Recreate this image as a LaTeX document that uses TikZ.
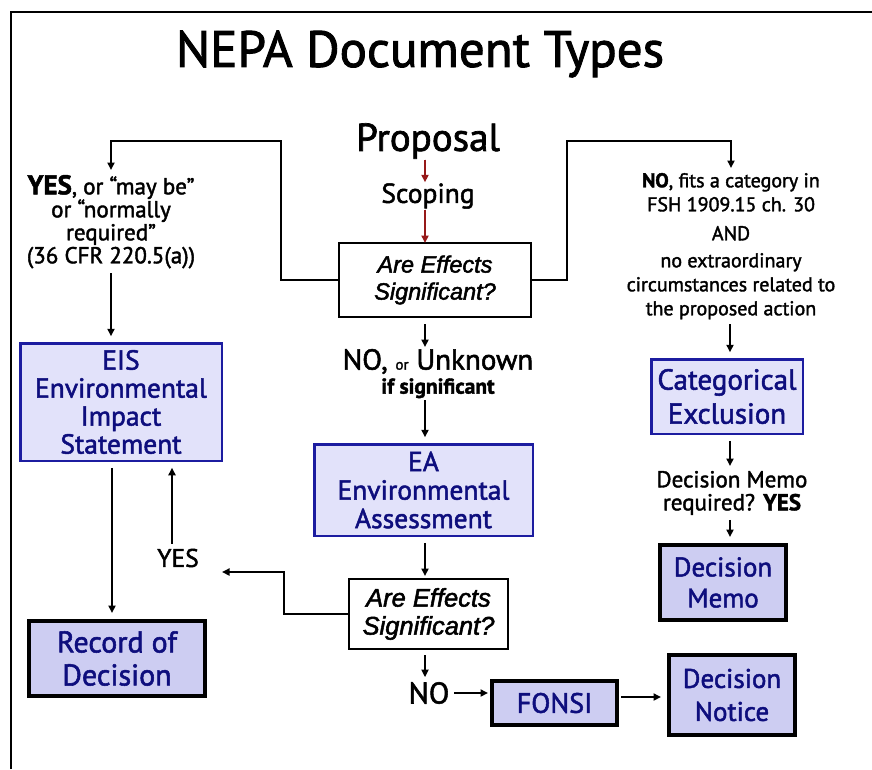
\documentclass[tikz,border=0pt]{standalone}
\usepackage{fontspec}
\setmainfont[FakeBold=1.8]{PT Sans}
\newfontfamily\qfont[FakeBold=2]{Liberation Sans}
\usetikzlibrary{arrows.meta,calc}
\definecolor{boxblue}{RGB}{28,28,160}
\definecolor{lightfill}{RGB}{226,226,250}
\definecolor{darkfill}{RGB}{205,205,242}
\definecolor{navy}{RGB}{14,14,125}
\definecolor{darkred}{RGB}{150,25,25}
\newcommand\fsz[2]{\fontsize{#1}{#2}\selectfont}
\begin{document}
\begin{tikzpicture}[x=1pt,y=-1pt,
  txt/.style={inner sep=0pt, outer sep=5pt, align=center},
  bluebox/.style={draw=boxblue, line width=2.5pt, fill=lightfill, text=navy, align=center, inner sep=0pt, outer sep=7pt},
  blackbox/.style={draw=black, line width=4pt, fill=darkfill, text=navy, align=center, inner sep=0pt, outer sep=8pt},
  qbox/.style={draw=black, line width=2pt, fill=white, align=center, inner sep=0pt, outer sep=0pt},
  arr/.style={-{Triangle[length=7.5pt,width=7pt]}, line width=2.1pt},
  redarr/.style={arr, draw=darkred, fill=darkred},
  frame/.style={line width=2.2pt}]
\useasboundingbox (0,0) rectangle (872,769);
\draw[frame] (11,769) -- (11,12) -- (872,12);

\coordinate (cx) at (425,0);
\coordinate (rx) at (730,0);

\node[txt, font=\fsz{51}{55}] (title) at (420,54) {NEPA Document Types};
\node[txt, outer sep=1pt, font=\fsz{39}{40}] (proposal) at (428,141) {Proposal};
\node[txt, outer sep=1pt, font=\fsz{27.5}{30}] (scoping) at (428,196) {Scoping};
\node[qbox, minimum width=192pt, minimum height=74pt, font=\qfont\itshape\fsz{23.5}{27}] (q1) at (435,280) {Are Effects\\Significant?};

\node[txt, anchor=north, font=\fsz{23}{23}] (yesL) at (111,170) {{\fsz{27}{23}\bfseries YES}, or “may be”\\or “normally\\required”\\(36 CFR 220.5(a))};
\node[txt, anchor=north, font=\fsz{20}{24}] (noR) at (731,168) {{\bfseries NO}, fits a category in\\FSH 1909.15 ch. 30\\[5pt]AND\\[3pt]no extraordinary\\circumstances related to\\the proposed action};
\node[txt, anchor=north, outer sep=2pt, font=\fsz{29}{24}] (noM) at (438,347) {NO, {\fsz{15}{24}or} Unknown\\{\fsz{21.5}{24}\bfseries if significant}};

\node[bluebox, minimum width=201.5pt, minimum height=117.5pt, font=\fsz{27.5}{28}] (eis) at (121,402) {EIS\\Environmental\\Impact\\Statement};
\node[bluebox, minimum width=218.5pt, minimum height=91.5pt, font=\fsz{27.5}{28.5}] (ea) at (423.5,490) {EA\\Environmental\\Assessment};
\node[bluebox, minimum width=151.5pt, minimum height=74.5pt, font=\fsz{29}{34}] (ce) at (727,396.5) {Categorical\\Exclusion};

\node[qbox, minimum width=159pt, minimum height=70pt, font=\qfont\itshape\fsz{25.5}{28}] (q2) at (428.5,614) {Are Effects\\Significant?};

\node[blackbox, minimum width=176pt, minimum height=75pt, font=\fsz{30}{33}] (record) at (117,658.5) {Record of\\Decision};
\node[blackbox, minimum width=126pt, minimum height=75pt, font=\fsz{27}{31}] (memo) at (723,582.5) {Decision\\Memo};
\node[blackbox, minimum width=126pt, minimum height=80pt, font=\fsz{27}{33}] (notice) at (732,695) {Decision\\Notice};
\node[blackbox, outer sep=4pt, minimum width=125pt, minimum height=44pt, font=\fsz{28}{30}] (fonsi) at (554.5,703) {FONSI};

\node[txt, anchor=north, font=\fsz{23}{23}] (memoQ) at (732,466) {Decision Memo\\required? {\bfseries YES}};
\node[txt, font=\fsz{25.5}{25}] (yesB) at (178,558) {YES};
\node[txt, font=\fsz{30}{30}] (noB) at (429,693) {NO};
\coordinate (yb) at (222,572);

% connectors
\draw[redarr] (proposal.south -| cx) -- (scoping.north -| cx);
\draw[redarr] (scoping.south -| cx) -- (q1.north -| cx);
\draw[arr] (q1.west) -| (281,141) -| (yesL.north);
\draw[arr] (q1.east) -| (567,141) -| (noR.north);
\draw[arr] (yesL.south) -- (eis.north -| yesL.south);
\draw[arr, shorten <=7pt] (q1.south -| cx) -- (noM.north -| cx);
\draw[arr] (noM.south -| cx) -- (ea.north -| cx);
\draw[arr, shorten >=3pt] (ea.south -| cx) -- (q2.north -| cx);
\draw[arr, shorten <=6pt] (q2.south -| cx) -- (noB.north -| cx);
\draw[arr] (noB.east) -- (fonsi.west |- noB.east);
\draw[arr] ($(fonsi.east)+(0,-6)$) -- ($(notice.west)+(0,2)$);
\draw[arr] (q2.west) -| (284,572) -- (yb);
\draw[arr] ($(yesB.north)+(-6,0)$) -- ($(eis.south)+(51,0)$);
\draw[arr] ($(eis.south)+(-9,0)$) -- ($(record.north)+(-5,0)$);
\draw[arr] (noR.south -| rx) -- (ce.north -| rx);
\draw[arr] (ce.south -| rx) -- (memoQ.north -| rx);
\draw[arr] (memoQ.south -| rx) -- (memo.north -| rx);
\end{tikzpicture}
\end{document}
